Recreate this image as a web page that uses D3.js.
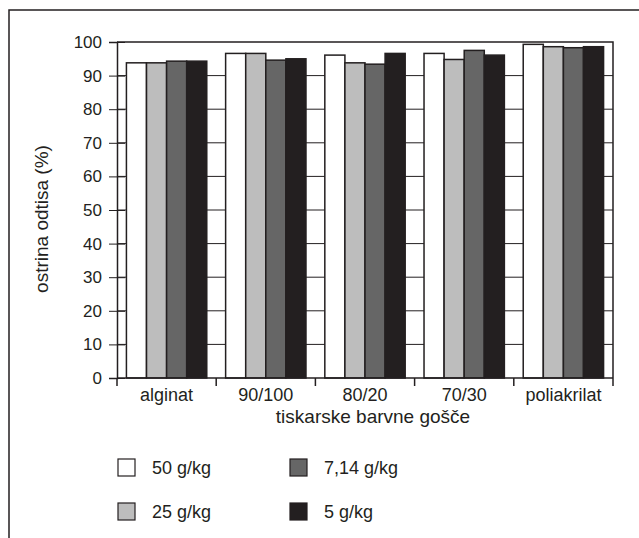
<!DOCTYPE html>
<html>
<head>
<meta charset="utf-8">
<script src="https://cdn.jsdelivr.net/npm/d3@7"></script>
<style>
  body { margin: 0; background: #fff; }
  text { font-family: "Liberation Sans", Arial, sans-serif; fill: #231f20; }
</style>
</head>
<body>
<svg id="chart" width="639" height="538"></svg>
<script>
// data
const categories = ["alginat", "90/100", "80/20", "70/30", "poliakrilat"];
const seriesNames = ["50 g/kg", "25 g/kg", "7,14 g/kg", "5 g/kg"];
const values50 = [93.8, 96.6, 96.1, 96.6, 99.3];
const values25 = [93.8, 96.6, 93.8, 94.8, 98.6];
const values714 = [94.3, 94.6, 93.4, 97.5, 98.3];
const values5 = [94.3, 95.0, 96.6, 96.1, 98.6];
const yTicks = [0, 10, 20, 30, 40, 50, 60, 70, 80, 90, 100];

const seriesValues = [values50, values25, values714, values5];
const fills = ["#ffffff", "#bdbdbd", "#666666", "#231f20"];

const svg = d3.select("#chart");
const margin = { left: 117, right: 26, top: 42, bottom: 160 };
const W = 639, H = 538;
const plotW = W - margin.left - margin.right;
const plotH = H - margin.top - margin.bottom;

// outer frame (only left and top edges are visible)
svg.append("path")
    .attr("d", `M9,538 V10 H639`)
    .attr("fill", "none")
    .attr("stroke", "#231f20")
    .attr("stroke-width", 1.5);

const g = svg.append("g").attr("transform", `translate(${margin.left},${margin.top})`);

const x0 = d3.scaleBand().domain(categories).range([0, plotW]).paddingInner(0.19).paddingOuter(0.095);
const x1 = d3.scaleBand().domain(seriesNames).range([0, x0.bandwidth()]);
const y = d3.scaleLinear().domain([0, 100]).range([plotH, 0]);

// gridlines behind bars
g.append("g")
    .selectAll("line")
    .data(yTicks.slice(1, -1))
    .enter()
    .append("line")
    .attr("x1", 0)
    .attr("x2", plotW)
    .attr("y1", d => y(d))
    .attr("y2", d => y(d))
    .attr("stroke", "#231f20")
    .attr("stroke-width", 1);

// bars
const groups = g.append("g")
    .selectAll("g")
    .data(categories)
    .enter()
    .append("g")
    .attr("transform", d => `translate(${x0(d)},0)`);

groups.selectAll("rect")
    .data((c, ci) => seriesNames.map((s, si) => ({ s, si, v: seriesValues[si][ci] })))
    .enter()
    .append("rect")
    .attr("x", d => x1(d.s))
    .attr("width", x1.bandwidth())
    .attr("y", d => y(d.v))
    .attr("height", d => y(0) - y(d.v))
    .attr("fill", d => fills[d.si])
    .attr("stroke", "#231f20")
    .attr("stroke-width", 1.5);

// plot frame: top and right lines
g.append("path")
    .attr("d", `M0,0 H${plotW} V${plotH}`)
    .attr("fill", "none")
    .attr("stroke", "#231f20")
    .attr("stroke-width", 1.5);

// y axis, ticks cross the line
const yAxis = g.append("g")
    .call(d3.axisLeft(y).tickValues(yTicks).tickSize(8).tickPadding(7));
yAxis.select(".domain").attr("stroke", "#231f20").attr("stroke-width", 1.5);
yAxis.selectAll(".tick line").attr("x1", -8).attr("x2", 8).attr("stroke", "#231f20");
yAxis.selectAll(".tick text").attr("font-size", 17).attr("font-family", null).attr("fill", "#231f20");

// x axis with ticks at group boundaries
g.append("line")
    .attr("x1", 0).attr("x2", plotW)
    .attr("y1", plotH).attr("y2", plotH)
    .attr("stroke", "#231f20").attr("stroke-width", 1.5);
const boundaries = d3.range(categories.length + 1).map(i => i * x0.step());
g.append("g")
    .selectAll("line")
    .data(boundaries)
    .enter()
    .append("line")
    .attr("x1", d => d).attr("x2", d => d)
    .attr("y1", plotH).attr("y2", plotH + 8)
    .attr("stroke", "#231f20").attr("stroke-width", 1.5);
g.append("g")
    .selectAll("text")
    .data(categories)
    .enter()
    .append("text")
    .attr("x", d => x0(d) + x0.bandwidth() / 2)
    .attr("y", plotH + 23)
    .attr("text-anchor", "middle")
    .attr("font-size", 18)
    .text(d => d);

// axis titles
svg.append("text")
    .attr("x", 373)
    .attr("y", 423)
    .attr("text-anchor", "middle")
    .attr("font-size", 19)
    .text("tiskarske barvne gošče");
svg.append("text")
    .attr("transform", "translate(48,219) rotate(-90)")
    .attr("text-anchor", "middle")
    .attr("font-size", 19)
    .text("ostrina odtisa (%)");

// legend
const legendPos = [[118, 459], [118, 503], [290, 459], [290, 503]];
const legend = svg.append("g")
    .selectAll("g")
    .data(seriesNames)
    .enter()
    .append("g")
    .attr("transform", (d, i) => `translate(${legendPos[i][0]},${legendPos[i][1]})`);
legend.append("rect")
    .attr("width", 17).attr("height", 17)
    .attr("fill", (d, i) => fills[i])
    .attr("stroke", "#231f20").attr("stroke-width", 1.2);
legend.append("text")
    .attr("x", 34).attr("y", 15)
    .attr("font-size", 18)
    .text(d => d);
</script>
</body>
</html>
